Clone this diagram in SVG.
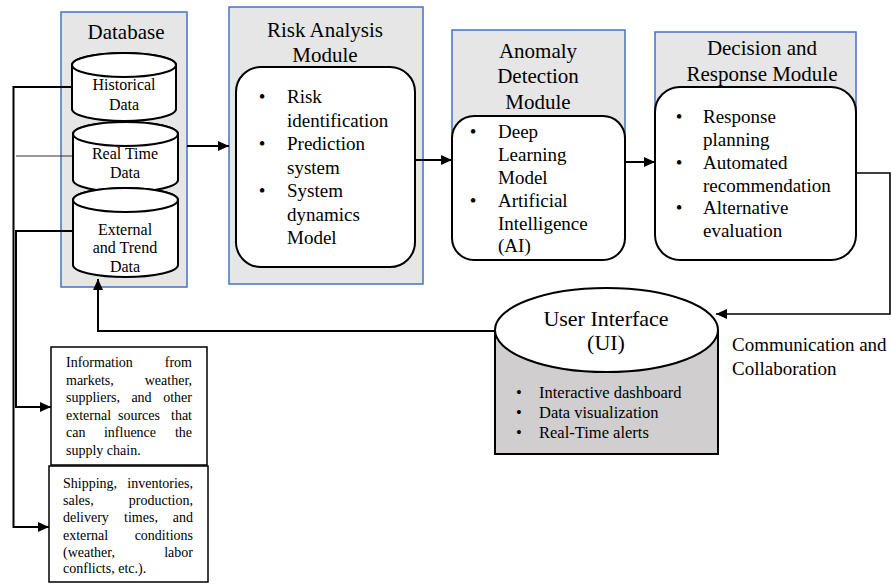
<svg xmlns="http://www.w3.org/2000/svg" width="891" height="584" viewBox="0 0 891 584">
<defs>
<marker id="ah" markerUnits="userSpaceOnUse" markerWidth="11" markerHeight="10" refX="11" refY="5" orient="auto">
<path d="M0,0 L11,5 L0,10 Z" fill="#000"/>
</marker>
<style>
text{font-family:"Liberation Serif","Times New Roman",serif;fill:#000}
.mod{fill:#e6e6e6;stroke:#4472c4;stroke-width:1.5}
.inner{fill:#fff;stroke:#000;stroke-width:2}
.cyl{fill:#fff;stroke:#000;stroke-width:2}
.t21{font-size:21px;text-anchor:middle}
.t16{font-size:16px;text-anchor:middle}
.b19{font-size:19px}
.b14{font-size:14px}
.e{text-anchor:end}
.m{text-anchor:middle}
.box{fill:#fff;stroke:#000;stroke-width:1.5}
.con{fill:none;stroke:#000;stroke-width:2}
</style>
</defs>

<g id="database">
<rect class="mod" x="61" y="12" width="126" height="275"/>
<text class="t21" x="126" y="39">Database</text>
</g>

<g id="historical-data">
<path class="cyl" d="M72,65 L72,109 A52,12 0 0 0 176,109 L176,65 A52,12 0 0 0 72,65 Z"/>
<ellipse class="cyl" cx="124" cy="65" rx="52" ry="12"/>
<text class="t16" x="124" y="90">Historical</text>
<text class="t16" x="124" y="110">Data</text>
</g>

<g id="real-time-data">
<path class="cyl" d="M73,134 L73,180 A52.5,12 0 0 0 178,180 L178,134 A52.5,12 0 0 0 73,134 Z"/>
<ellipse class="cyl" cx="125.5" cy="134" rx="52.5" ry="12"/>
<text class="t16" x="125" y="159">Real Time</text>
<text class="t16" x="125" y="178">Data</text>
</g>

<g id="external-trend-data">
<path class="cyl" d="M73,200 L73,265 A52.5,12 0 0 0 178,265 L178,200 A52.5,12 0 0 0 73,200 Z"/>
<ellipse class="cyl" cx="125.5" cy="200" rx="52.5" ry="12"/>
<text class="t16" x="125" y="235">External</text>
<text class="t16" x="125" y="253">and Trend</text>
<text class="t16" x="125" y="272">Data</text>
</g>

<g id="risk-analysis">
<rect class="mod" x="229" y="7" width="194" height="277"/>
<text class="t21" x="325" y="37">Risk Analysis</text>
<text class="t21" x="325" y="62">Module</text>
<rect class="inner" x="236" y="67" width="179" height="200" rx="25"/>
<g class="b19">
<text x="262" y="103" class="m">•</text><text x="287" y="103">Risk</text>
<text x="287" y="126.5">identification</text>
<text x="262" y="150" class="m">•</text><text x="287" y="150">Prediction</text>
<text x="287" y="173.5">system</text>
<text x="262" y="197" class="m">•</text><text x="287" y="197">System</text>
<text x="287" y="220.5">dynamics</text>
<text x="287" y="244">Model</text>
</g>
</g>

<g id="anomaly-detection">
<rect class="mod" x="452" y="30" width="173" height="115"/>
<text class="t21" x="538" y="58">Anomaly</text>
<text class="t21" x="538" y="83">Detection</text>
<text class="t21" x="538" y="109">Module</text>
<rect class="inner" x="452" y="116" width="173" height="144" rx="22"/>
<g class="b19">
<text x="473" y="138" class="m">•</text><text x="498" y="138">Deep</text>
<text x="498" y="161">Learning</text>
<text x="498" y="184">Model</text>
<text x="473" y="207" class="m">•</text><text x="498" y="207">Artificial</text>
<text x="498" y="229.5">Intelligence</text>
<text x="498" y="252">(AI)</text>
</g>
</g>

<g id="decision-response">
<rect class="mod" x="655" y="32" width="201" height="115"/>
<text class="t21" x="762" y="55">Decision and</text>
<text class="t21" x="762" y="81">Response Module</text>
<rect class="inner" x="655" y="87" width="201" height="173" rx="25"/>
<g class="b19">
<text x="679" y="123" class="m">•</text><text x="703" y="123">Response</text>
<text x="703" y="146">planning</text>
<text x="679" y="168.5" class="m">•</text><text x="703" y="168.5">Automated</text>
<text x="703" y="191.5">recommendation</text>
<text x="679" y="214" class="m">•</text><text x="703" y="214">Alternative</text>
<text x="703" y="237">evaluation</text>
</g>
</g>

<g id="user-interface">
<path d="M495,330 L495,454 L718,454 L718,330 Z" fill="#d0cece" stroke="#000" stroke-width="2"/>
<ellipse cx="606.5" cy="330" rx="111.5" ry="42" fill="#fff" stroke="#000" stroke-width="2"/>
<text x="606" y="326" style="font-size:22px;text-anchor:middle">User Interface</text>
<text x="606" y="350" style="font-size:22px;text-anchor:middle">(UI)</text>
<g style="font-size:16.5px">
<text x="519" y="398" class="m">•</text><text x="539" y="398">Interactive dashboard</text>
<text x="519" y="418" class="m">•</text><text x="539" y="418">Data visualization</text>
<text x="519" y="438" class="m">•</text><text x="539" y="438">Real-Time alerts</text>
</g>
</g>

<g id="communication-label">
<text x="732" y="351" style="font-size:19px">Communication and</text>
<text x="732" y="375" style="font-size:19px">Collaboration</text>
</g>

<g id="external-info">
<rect class="box" x="51" y="347" width="156" height="118"/>
<g class="b14">
<text x="66" y="367">Information</text><text x="192" y="367" class="e">from</text>
<text x="66" y="384.5">markets,</text><text x="192" y="384.5" class="e">weather,</text>
<text x="66" y="402">suppliers,</text><text x="141.5" y="402" class="m">and</text><text x="192" y="402" class="e">other</text>
<text x="66" y="419.5">external</text><text x="118" y="419.5">sources</text><text x="192" y="419.5" class="e">that</text>
<text x="66" y="437">can</text><text x="130" y="437" class="m">influence</text><text x="192" y="437" class="e">the</text>
<text x="66" y="454.5">supply chain.</text>
</g>
</g>

<g id="realtime-info">
<rect class="box" x="49" y="466" width="159" height="116"/>
<g class="b14">
<text x="63" y="488">Shipping,</text><text x="193" y="488" class="e">inventories,</text>
<text x="63" y="505">sales,</text><text x="193" y="505" class="e">production,</text>
<text x="63" y="522">delivery</text><text x="141" y="522" class="m">times,</text><text x="193" y="522" class="e">and</text>
<text x="63" y="539.5">external</text><text x="193" y="539.5" class="e">conditions</text>
<text x="63" y="556.5">(weather,</text><text x="193" y="556.5" class="e">labor</text>
<text x="63" y="573">conflicts, etc.).</text>
</g>
</g>

<g id="connectors">
<path class="con" d="M187,146 L229,146" marker-end="url(#ah)"/>
<path class="con" d="M415,160 L452,160" marker-end="url(#ah)"/>
<path class="con" d="M625,162 L655,162" marker-end="url(#ah)"/>
<path class="con" style="stroke-width:1.6" d="M856,173 L890,173 L890,314 L716,314" marker-end="url(#ah)"/>
<path class="con" d="M495,331 L98,331 L98,279" marker-end="url(#ah)"/>
<path class="con" d="M72,87 L13.5,87 L13.5,527 L49,527" marker-end="url(#ah)"/>
<path class="con" style="stroke:#333;stroke-width:1" d="M72,156 L16,156"/>
<path class="con" d="M73,231 L16,231 L16,407 L51,407" marker-end="url(#ah)"/>
</g>
</svg>
